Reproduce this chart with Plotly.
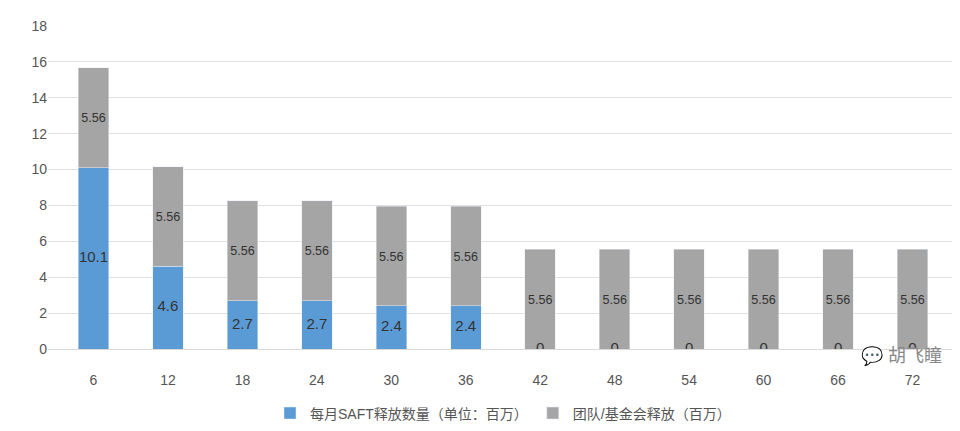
import plotly.graph_objects as go

months = ["6", "12", "18", "24", "30", "36", "42", "48", "54", "60", "66", "72"]
saft = [10.1, 4.6, 2.7, 2.7, 2.4, 2.4, 0, 0, 0, 0, 0, 0]
team = [5.56] * 12

fig = go.Figure()
fig.add_trace(go.Bar(x=months, y=saft, name="每月SAFT释放数量（单位：百万）",
                     marker_color="#5b9bd5", hoverinfo="y"))
fig.add_trace(go.Bar(x=months, y=team, name="团队/基金会释放（百万）",
                     marker_color="#a5a5a5", text=[str(v) for v in team],
                     textposition="inside", insidetextanchor="middle", textangle=0,
                     textfont=dict(size=15, color="#333333")))
# labels for the blue series (also shows the zero labels)
fig.add_trace(go.Scatter(x=months, y=[v / 2 for v in saft], mode="text",
                         text=[str(v) if v else "0" for v in saft],
                         textfont=dict(size=15, color="#333333"),
                         showlegend=False, hoverinfo="skip"))

fig.add_annotation(text="💬 胡飞瞳", xref="paper", yref="paper", x=0.985, y=-0.06,
                   xanchor="right", showarrow=False,
                   font=dict(size=18, color="#888888"))

fig.update_layout(
    barmode="stack", bargap=0.59, width=960, height=431,
    margin=dict(l=40, r=10, t=14, b=78),
    plot_bgcolor="white", paper_bgcolor="white",
    font=dict(family="Liberation Sans, Noto Sans CJK SC", size=14, color="#555555"),
    legend=dict(orientation="h", x=0.5, xanchor="center", y=-0.15, yanchor="top",
                traceorder="normal", font=dict(size=14)),
    xaxis=dict(showline=True, linecolor="#d9d9d9", ticks="", ticklabelstandoff=18),
    yaxis=dict(range=[0, 18], dtick=2, gridcolor="#e0e0e0", zeroline=False,
               tickfont=dict(size=14)),
)
fig.write_html("out.html")
